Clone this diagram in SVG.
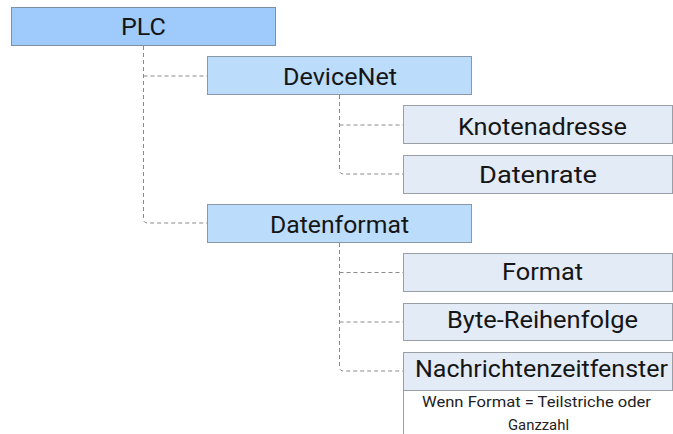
<svg xmlns="http://www.w3.org/2000/svg" width="673" height="434" viewBox="0 0 673 434">
<style>
.lvl0{fill:#9ecbfb;stroke:#7d8fa3;stroke-width:1}
.lvl1{fill:#bbdcfb;stroke:#8a97a6;stroke-width:1}
.lvl2{fill:#e3ebf7;stroke:#9a9fa6;stroke-width:1}
.t{font-family:Roboto,"Liberation Sans",sans-serif;font-size:24px;fill:#151515;text-anchor:middle}
.s{font-family:Roboto,"Liberation Sans",sans-serif;font-size:15px;fill:#222;text-anchor:middle}
.c{fill:none;stroke:#8a8a8a;stroke-width:1;stroke-dasharray:4 3}
</style>
<rect width="673" height="434" fill="#fff"/>
<g id="connectors">
<path class="c" d="M143.5 46 V219 Q143.5 223 147.5 223 H207"/>
<path class="c" d="M143.5 76 H207"/>
<path class="c" d="M339.5 95 V170 Q339.5 174 343.5 174 H403"/>
<path class="c" d="M339.5 125 H403"/>
<path class="c" d="M339.5 243 V367 Q339.5 371 343.5 371 H403"/>
<path class="c" d="M339.5 272.5 H403"/>
<path class="c" d="M339.5 322 H403"/>
</g>
<g id="plc">
<rect class="lvl0" x="11.5" y="7.5" width="264" height="38"/>
<text class="t" x="143.5" y="35" textLength="45" lengthAdjust="spacingAndGlyphs">PLC</text>
</g>
<g id="devicenet">
<rect class="lvl1" x="207.5" y="56.5" width="264" height="38"/>
<text class="t" x="340" y="85" textLength="114" lengthAdjust="spacingAndGlyphs">DeviceNet</text>
</g>
<g id="knotenadresse">
<rect class="lvl2" x="403.5" y="105.5" width="269" height="38"/>
<text class="t" x="542.5" y="135" textLength="169" lengthAdjust="spacingAndGlyphs">Knotenadresse</text>
</g>
<g id="datenrate">
<rect class="lvl2" x="403.5" y="155.5" width="269" height="38"/>
<text class="t" x="538" y="183" textLength="118" lengthAdjust="spacingAndGlyphs">Datenrate</text>
</g>
<g id="datenformat">
<rect class="lvl1" x="207.5" y="204.5" width="264" height="38"/>
<text class="t" x="339.5" y="233" textLength="139" lengthAdjust="spacingAndGlyphs">Datenformat</text>
</g>
<g id="format">
<rect class="lvl2" x="403.5" y="253.5" width="269" height="38"/>
<text class="t" x="542.5" y="280" textLength="81" lengthAdjust="spacingAndGlyphs">Format</text>
</g>
<g id="byte-reihenfolge">
<rect class="lvl2" x="403.5" y="303.5" width="269" height="37"/>
<text class="t" x="542.5" y="328" textLength="191" lengthAdjust="spacingAndGlyphs">Byte-Reihenfolge</text>
</g>
<g id="nachrichtenzeitfenster">
<rect class="lvl2" x="403.5" y="352.5" width="269" height="38"/>
<text class="t" x="541.5" y="377" textLength="253" lengthAdjust="spacingAndGlyphs">Nachrichtenzeitfenster</text>
<path d="M403.5 390.5 V434" fill="none" stroke="#9a9fa6" stroke-width="1"/>
<text class="s" x="536.5" y="407" textLength="229" lengthAdjust="spacingAndGlyphs">Wenn Format = Teilstriche oder</text>
<text class="s" x="538.5" y="430" textLength="61" lengthAdjust="spacingAndGlyphs">Ganzzahl</text>
</g>
</svg>
